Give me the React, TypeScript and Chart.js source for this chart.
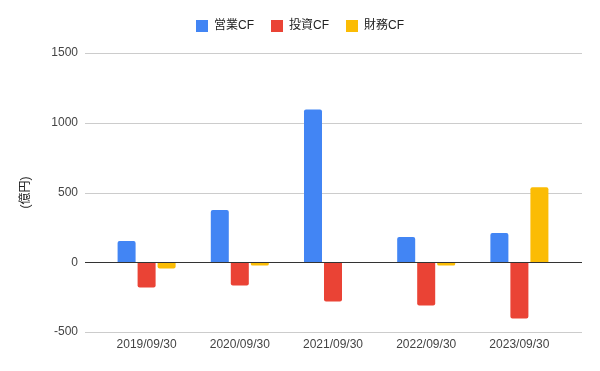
import React, { useEffect, useRef } from "react";
import { Chart, registerables } from "chart.js";

Chart.register(...registerables);

const categories = ["2019/09/30", "2020/09/30", "2021/09/30", "2022/09/30", "2023/09/30"];
const operatingCF = [152, 374, 1095, 181, 209];
const investingCF = [-181, -167, -281, -310, -403];
const financingCF = [-45, -24, 0, -24, 538];
const seriesNames = ["営業CF", "投資CF", "財務CF"];
const yTicks = [-500, 0, 500, 1000, 1500];
const yTitle = "(億円)";

const FONT = "'Liberation Sans', Arial, 'Noto Sans CJK JP', sans-serif";

const gridPlugin = {
  id: "extendedGrid",
  beforeLayout(chart: any) {
    const lg = chart.legend;
    if (lg && !lg._patched) {
      const orig = lg.fit;
      lg.fit = function () {
        orig.call(this);
        this.height += 11;
      };
      lg._patched = true;
    }
  },
  afterLayout(chart: any) {
    const lg = chart.legend;
    if (lg) {
      lg.left = 0;
      lg.right = chart.width;
    }
  },
  beforeDatasetsDraw(chart: any) {
    const { ctx, chartArea, scales } = chart;
    const y = scales.y;
    ctx.save();
    for (const v of yTicks) {
      const py = Math.round(y.getPixelForValue(v)) + 0.5;
      ctx.beginPath();
      ctx.moveTo(chartArea.left - 15, py);
      ctx.lineTo(chartArea.right + 16, py);
      ctx.lineWidth = 1;
      ctx.strokeStyle = "#cccccc";
      ctx.stroke();
    }
    ctx.restore();
  },
  afterDatasetsDraw(chart: any) {
    const { ctx, chartArea, scales } = chart;
    const py = Math.round(scales.y.getPixelForValue(0)) + 0.5;
    ctx.save();
    ctx.beginPath();
    ctx.moveTo(chartArea.left - 15, py);
    ctx.lineTo(chartArea.right + 16, py);
    ctx.lineWidth = 1;
    ctx.strokeStyle = "#333333";
    ctx.stroke();
    ctx.restore();
  },
};

export default function App() {
  const ref = useRef<HTMLCanvasElement>(null);
  useEffect(() => {
    if (!ref.current) return;
    const chart = new Chart(ref.current, {
      type: "bar",
      data: {
        labels: categories,
        datasets: [
          { label: seriesNames[0], data: operatingCF, backgroundColor: "#4285F4", borderRadius: 2 },
          { label: seriesNames[1], data: investingCF, backgroundColor: "#EA4335", borderRadius: 2 },
          { label: seriesNames[2], data: financingCF, backgroundColor: "#FBBC04", borderRadius: 2 },
        ],
      },
      options: {
        responsive: false,
        animation: false,
        layout: { padding: { top: 3, right: 34, bottom: 0, left: 0 } },
        datasets: { bar: { categoryPercentage: 0.644, barPercentage: 0.9 } },
        plugins: {
          legend: {
            position: "top",
            labels: {
              boxWidth: 12,
              boxHeight: 12,
              padding: 17,
              color: "#222222",
              font: { family: FONT, size: 12 },
            },
          },
          tooltip: { enabled: false },
        },
        scales: {
          x: {
            grid: { display: false, drawTicks: false },
            border: { display: false },
            ticks: { color: "#444444", font: { family: FONT, size: 12 }, padding: 5, maxRotation: 0 },
            afterFit: (s: any) => {
              s.height = 39;
            },
          },
          y: {
            min: -500,
            max: 1500,
            afterBuildTicks: (s: any) => {
              s.ticks = yTicks.map((v) => ({ value: v }));
            },
            grid: { display: false, drawTicks: false },
            border: { display: false },
            ticks: {
              color: "#444444",
              font: { family: FONT, size: 12 },
              padding: 22,
              callback: (v: any) => String(v),
            },
            title: {
              display: true,
              text: yTitle,
              color: "#222222",
              font: { family: FONT, size: 12 },
              padding: { top: 18, bottom: 0 },
            },
            afterFit: (s: any) => {
              s.width = 100;
            },
          },
        },
      },
      plugins: [gridPlugin],
    });
    return () => chart.destroy();
  }, []);
  return (
    <div style={{ position: "absolute", left: 0, top: 0, width: 600, height: 371, background: "#fff" }}>
      <canvas ref={ref} width={600} height={371} />
    </div>
  );
}
